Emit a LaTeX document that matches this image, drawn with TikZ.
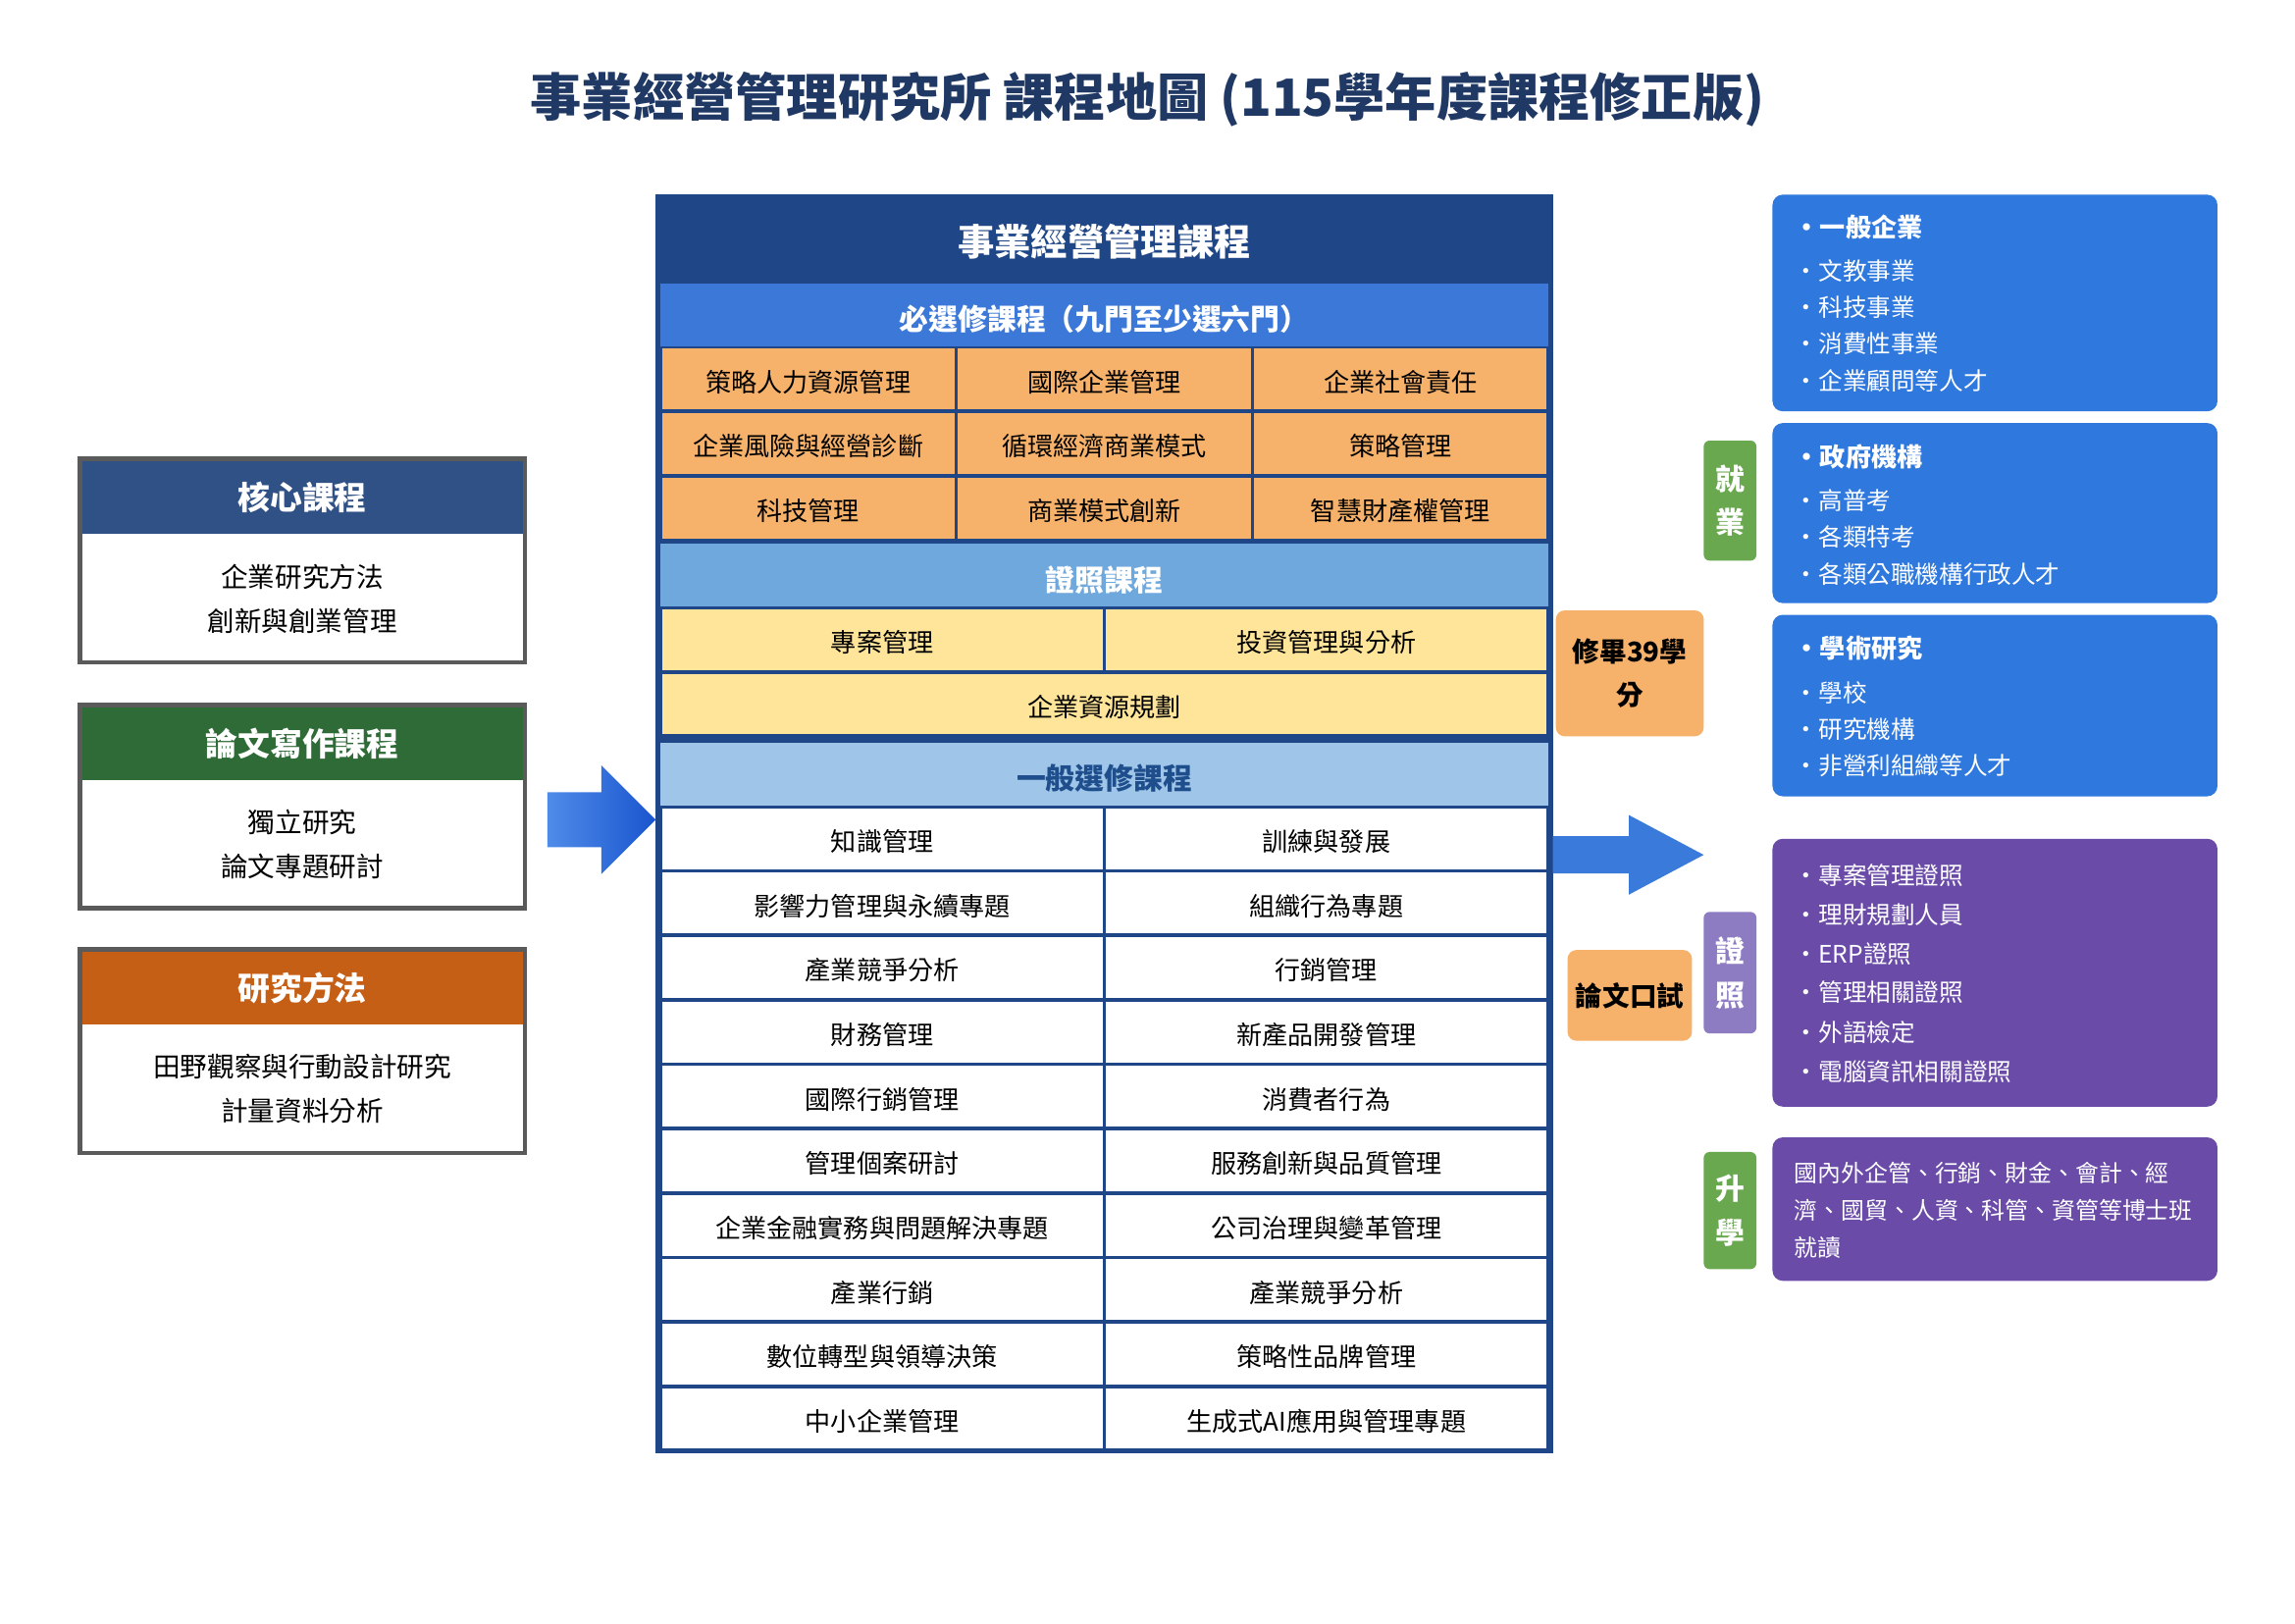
\documentclass[tikz,border=0pt]{standalone}
\usepackage{fontspec}
\setmainfont{Noto Sans CJK TC}
\usetikzlibrary{shapes.arrows,positioning,calc}

\definecolor{titlenavy}{HTML}{1F3864}
\definecolor{mainnavy}{HTML}{1F4686}
\definecolor{reqblue}{HTML}{3C78D8}
\definecolor{certblue}{HTML}{6FA8DC}
\definecolor{electblue}{HTML}{9FC5E8}
\definecolor{electtext}{HTML}{1F4E8C}
\definecolor{reqorange}{HTML}{F6B26B}
\definecolor{certyellow}{HTML}{FFE599}
\definecolor{coreblue}{HTML}{2F5185}
\definecolor{thesisgreen}{HTML}{2E6B37}
\definecolor{methodorange}{HTML}{C55F16}
\definecolor{boxgray}{HTML}{5A5A5A}
\definecolor{jobblue}{HTML}{2E78DE}
\definecolor{certpurple}{HTML}{6A4CA8}
\definecolor{tagpurple}{HTML}{8E7CC3}
\definecolor{taggreen}{HTML}{6AA84F}
\definecolor{arrowlight}{HTML}{4F8BE8}
\definecolor{arrowdark}{HTML}{1A55CF}
\definecolor{arrowblue}{HTML}{3A7ADB}

\tikzset{
  plain/.style={inner sep=0pt, outer sep=0pt},
  celltext/.style={plain, text height=18.6pt, text depth=1.3pt, font=\fontsize{17.5}{21}\selectfont},
  reqcell/.style={celltext, fill=reqorange, minimum width=199.8pt, minimum height=41.5pt},
  certcell/.style={celltext, fill=certyellow, minimum height=41.5pt},
  electcell/.style={celltext, fill=white, minimum width=301pt, minimum height=41.5pt},
  band/.style={plain, text height=22.5pt, text depth=1.3pt, minimum width=607pt, minimum height=43pt, font=\bfseries\fontsize{20}{24}\selectfont},
  leftbox/.style={plain, draw=boxgray, line width=3pt, fill=white, minimum width=304pt, minimum height=139pt},
  lefthead/.style={plain, anchor=north, minimum width=301pt, minimum height=50pt, text=white, font=\bfseries\fontsize{22}{26}\selectfont},
  bodytext/.style={plain, font=\fontsize{18.5}{22}\selectfont},
  outbox/.style={plain, rounded corners=7pt, minimum width=304pt},
  headtext/.style={plain, anchor=west, text=white, font=\bfseries\fontsize{17.5}{21}\selectfont},
  itemtext/.style={plain, anchor=west, text=white, font=\fontsize{16.5}{20}\selectfont},
  tag/.style={plain, rounded corners=4pt, minimum width=36pt, text=white, align=center, font=\bfseries\fontsize{20}{30}\selectfont},
  stage/.style={plain, rounded corners=6pt, fill=reqorange, align=center, font=\bfseries\fontsize{18.5}{29}\selectfont}
}

\begin{document}
\begin{tikzpicture}[x=1pt, y=-1pt]
    \fill[white] (0,0) rectangle (1568,1109);
    \useasboundingbox (0,0) rectangle (1568,1109);

    % Title
    \node[plain, text=titlenavy, font=\bfseries\fontsize{35}{42}\selectfont] (title) at (784,68)
        {事業經營管理研究所 課程地圖 (115學年度課程修正版)};

    % Main course block
    \node[plain, fill=mainnavy, anchor=north west, minimum width=613pt, minimum height=860pt] (main) at (448,133) {};
    \node[plain, text=white, text height=24.5pt, text depth=1.5pt, font=\bfseries\fontsize{25}{30}\selectfont] (maintitle) at (754.5,163) {事業經營管理課程};

    % Required electives (3 x 3)
    \node[band, fill=reqblue, text=white] (req) at (754.5,215) {必選修課程（九門至少選六門）};
    \foreach \c/\r/\txt in {0/0/策略人力資源管理, 1/0/國際企業管理, 2/0/企業社會責任,
                            0/1/企業風險與經營診斷, 1/1/循環經濟商業模式, 2/1/策略管理,
                            0/2/科技管理, 1/2/商業模式創新, 2/2/智慧財產權管理}
        \node[reqcell] (req-\r-\c) at ({552.17+202.33*\c},{259+44*\r}) {\txt};

    % Certificate courses
    \node[band, fill=certblue, text=white] (cert) at (754.5,393) {證照課程};
    \node[certcell, minimum width=301pt] (cert-0-0) at (602.75,437) {專案管理};
    \node[certcell, minimum width=301pt] (cert-0-1) at (906.25,437) {投資管理與分析};
    \node[certcell, minimum width=604pt] (cert-1) at (754.5,481) {企業資源規劃};

    % General electives (10 x 2)
    \node[band, fill=electblue, text=electtext] (elect) at (754.5,529) {一般選修課程};
    \foreach \r/\lft/\rgt in {0/知識管理/訓練與發展, 1/影響力管理與永續專題/組織行為專題,
                              2/產業競爭分析/行銷管理, 3/財務管理/新產品開發管理,
                              4/國際行銷管理/消費者行為, 5/管理個案研討/服務創新與品質管理,
                              6/企業金融實務與問題解決專題/公司治理與變革管理, 7/產業行銷/產業競爭分析,
                              8/數位轉型與領導決策/策略性品牌管理, 9/中小企業管理/生成式AI應用與管理專題} {
        \node[electcell] (elect-\r-0) at (602.75,{573+44*\r}) {\lft};
        \node[electcell] (elect-\r-1) at (906.25,{573+44*\r}) {\rgt};
    }

    % Left column
    \foreach \n/\y/\col/\head/\la/\lb in {core/312/coreblue/核心課程/企業研究方法/創新與創業管理,
                                          thesis/480/thesisgreen/論文寫作課程/獨立研究/論文專題研討,
                                          method/647/methodorange/研究方法/田野觀察與行動設計研究/計量資料分析} {
        \node[leftbox] (\n) at (206.5,{\y+71}) {};
        \node[lefthead, fill=\col] (\n-head) at ([yshift=-1.5pt]\n.north) {\head};
        \node[bodytext] (\n-a) at (206.5,{\y+82}) {\la};
        \node[bodytext] (\n-b) at (206.5,{\y+112}) {\lb};
    }

    % Arrows in and out of the main block
    \node[plain, single arrow, anchor=tip, minimum height=74pt, inner ysep=18.5pt,
          single arrow head extend=18.5pt, single arrow tip angle=90,
          left color=arrowlight, right color=arrowdark] (inarrow) at ([yshift=3pt]main.west) {};
    \node[plain, single arrow, anchor=tail, minimum height=103pt, inner ysep=12.5pt,
          single arrow head extend=14.5pt, single arrow tip angle=56,
          fill=arrowblue] (outarrow) at ([yshift=-21pt]main.east) {};

    % Graduation steps
    \node[stage, minimum width=101pt, minimum height=86pt] (credits) at (1113.5,460) {修畢39學\\分};
    \node[stage, minimum width=85pt, minimum height=62pt] (defense) at (1113.5,680) {論文口試};

    % Career tags
    \node[tag, fill=taggreen, minimum height=82pt] (jobtag) at (1182,342) {就\\業};
    \node[tag, fill=tagpurple, minimum height=83pt] (certtag) at (1182,664.5) {證\\照};
    \node[tag, fill=taggreen, minimum height=80pt] (studytag) at (1182,827) {升\\學};

    % Career boxes
    \node[outbox, fill=jobblue, minimum height=148pt] (corp) at (1363,207) {};
    \node[outbox, fill=jobblue, minimum height=123pt] (gov) at (1363,350.5) {};
    \node[outbox, fill=jobblue, minimum height=124pt] (acad) at (1363,482) {};
    \node[outbox, fill=certpurple, minimum height=183pt] (lic) at (1363,664.5) {};
    \node[outbox, fill=certpurple, minimum height=98pt] (phd) at (1363,826) {};

    \node[headtext] (corp-0) at (1226,155) {・一般企業};
    \node[headtext] (gov-0) at (1226,312) {・政府機構};
    \node[headtext] (acad-0) at (1226,443) {・學術研究};
    \foreach \n/\k/\y/\txt in {corp/1/185/文教事業, corp/2/210/科技事業, corp/3/235/消費性事業, corp/4/260/企業顧問等人才,
                               gov/1/342/高普考, gov/2/367/各類特考, gov/3/392/各類公職機構行政人才,
                               acad/1/473/學校, acad/2/498/研究機構, acad/3/523/非營利組織等人才,
                               lic/1/598/專案管理證照, lic/2/625/理財規劃人員, lic/3/652/ERP證照,
                               lic/4/678/管理相關證照, lic/5/705/外語檢定, lic/6/732/電腦資訊相關證照}
        \node[itemtext] (\n-\k) at (1226,\y) {・\txt};

    \node[itemtext, font=\fontsize{16}{20}\selectfont] (phd-1) at (1226,801) {國內外企管、行銷、財金、會計、經};
    \node[itemtext, font=\fontsize{16}{20}\selectfont] (phd-2) at (1226,827) {濟、國貿、人資、科管、資管等博士班};
    \node[itemtext, font=\fontsize{16}{20}\selectfont] (phd-3) at (1226,852) {就讀};
\end{tikzpicture}
\end{document}
